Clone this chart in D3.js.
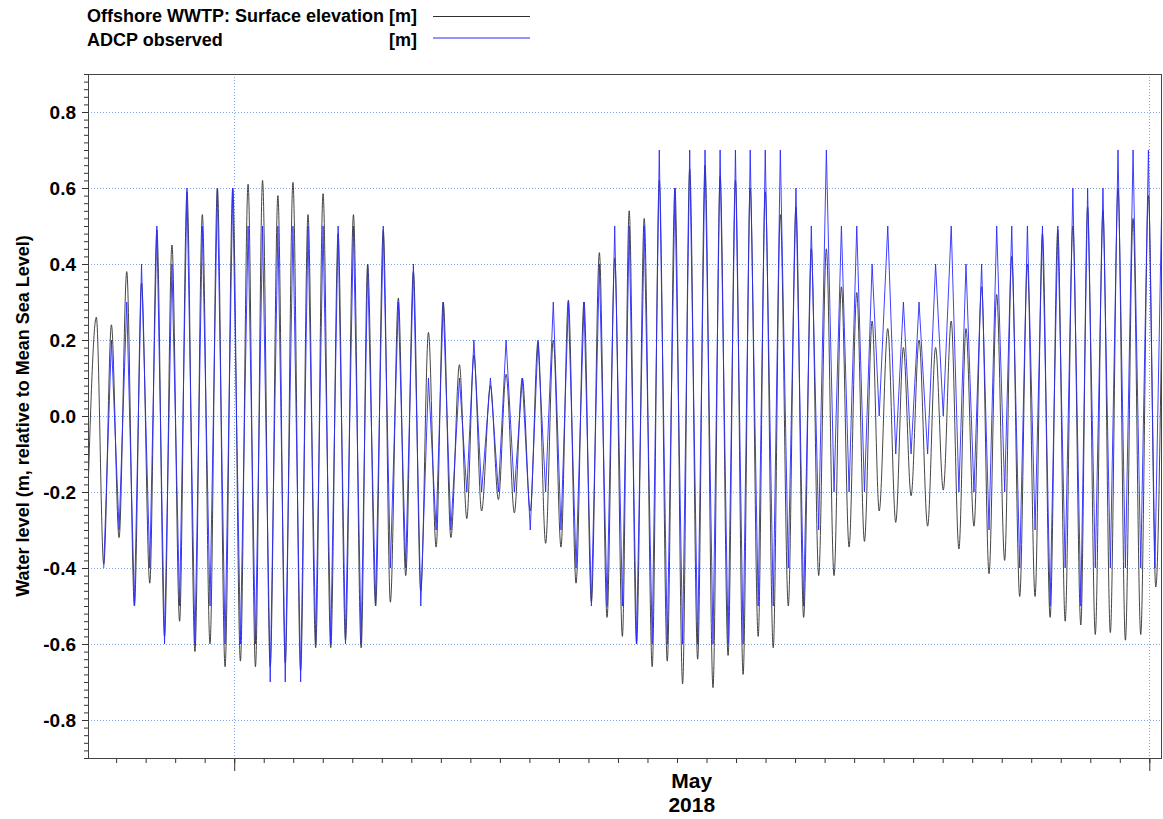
<!DOCTYPE html>
<html lang="en">
<head>
<meta charset="utf-8">
<title>Water level</title>
<script src="https://cdn.jsdelivr.net/npm/d3@7/dist/d3.min.js"></script>
<style type="text/css">
  body { margin: 0; background: #fff; }
  text { font-family: "Liberation Sans", Arial, sans-serif; font-weight: bold; fill: #000; }
</style>
</head>
<body>
<script type="text/javascript">
// times are in days after 2018-05-01 00:00 (UTC), levels in m
var modelTime = [-4.95, -4.67, -4.42, -4.16, -3.90, -3.64, -3.38, -3.14, -2.86, -2.62, -2.36, -2.11,
  -1.85, -1.60, -1.33, -1.08, -0.82, -0.57, -0.31, -0.05, 0.21, 0.47, 0.72, 0.96, 1.22, 1.48, 1.73,
  1.99, 2.25, 2.50, 2.76, 3.01, 3.27, 3.52, 3.77, 4.04, 4.30, 4.52, 4.79, 5.05, 5.29, 5.56, 5.81,
  6.07, 6.32, 6.58, 6.84, 7.08, 7.34, 7.63, 7.88, 8.12, 8.38, 8.68, 8.95, 9.21, 9.49, 9.76, 10.03,
  10.29, 10.55, 10.81, 11.07, 11.32, 11.58, 11.85, 12.10, 12.37, 12.63, 12.89, 13.15, 13.38, 13.63,
  13.89, 14.16, 14.40, 14.67, 14.93, 15.19, 15.43, 15.70, 15.95, 16.22, 16.46, 16.73, 16.98, 17.24,
  17.48, 17.75, 17.99, 18.26, 18.50, 18.77, 19.03, 19.29, 19.55, 19.80, 20.06, 20.32, 20.57, 20.83,
  21.09, 21.35, 21.61, 21.85, 22.14, 22.41, 22.67, 22.93, 23.20, 23.49, 23.76, 24.02, 24.29, 24.55,
  24.79, 25.06, 25.32, 25.57, 25.83, 26.10, 26.34, 26.61, 26.87, 27.13, 27.38, 27.64, 27.90, 28.15,
  28.41, 28.68, 28.91, 29.17, 29.43, 29.68, 29.94, 30.19, 30.45, 30.71, 30.97, 31.22, 31.43];
var modelLevel = [-0.19, 0.26, -0.39, 0.24, -0.32, 0.38, -0.50, 0.35, -0.44, 0.49, -0.58, 0.45,
  -0.54, 0.59, -0.62, 0.53, -0.60, 0.60, -0.66, 0.60, -0.645, 0.61, -0.66, 0.62, -0.66, 0.58, -0.65,
  0.615, -0.67, 0.53, -0.61, 0.585, -0.61, 0.48, -0.59, 0.53, -0.61, 0.40, -0.50, 0.49, -0.49, 0.31, -0.42,
  0.38, -0.46, 0.22, -0.345, 0.30, -0.32, 0.135, -0.27, 0.16, -0.25, 0.08, -0.22, 0.11, -0.255, 0.10, -0.25,
  0.195, -0.335, 0.20, -0.345, 0.305, -0.44, 0.30, -0.49, 0.43, -0.53, 0.415, -0.58, 0.54, -0.60,
  0.52, -0.66, 0.62, -0.645, 0.60, -0.705, 0.65, -0.64, 0.66, -0.715, 0.63, -0.63, 0.62, -0.68,
  0.60, -0.58, 0.59, -0.61, 0.53, -0.50, 0.55, -0.53, 0.44, -0.42, 0.44, -0.42, 0.34, -0.345,
  0.325, -0.33, 0.25, -0.25, 0.23, -0.28, 0.18, -0.21, 0.20, -0.29, 0.18, -0.195, 0.25, -0.35,
  0.23, -0.29, 0.34, -0.415, 0.32, -0.38, 0.42, -0.475, 0.40, -0.475, 0.48, -0.53, 0.49, -0.54,
  0.50, -0.55, 0.55, -0.575, 0.54, -0.57, 0.60, -0.59, 0.52, -0.575, 0.58, -0.45, 0.30];

var obsTime = [-4.42, -4.16, -3.90, -3.64, -3.38, -3.14, -2.86, -2.62, -2.36, -2.11,
  -1.85, -1.60, -1.33, -1.08, -0.82, -0.57, -0.31, -0.05, 0.21, 0.47, 0.72, 0.96, 1.22, 1.48, 1.73,
  1.99, 2.25, 2.50, 2.76, 3.01, 3.27, 3.52, 3.77, 4.04, 4.30, 4.52, 4.79, 5.05, 5.29, 5.56, 5.81,
  6.07, 6.32, 6.58, 6.84, 7.08, 7.34, 7.63, 7.88, 8.12, 8.38, 8.68, 8.95, 9.21, 9.49, 9.76, 10.03,
  10.29, 10.55, 10.81, 11.07, 11.32, 11.58, 11.85, 12.10, 12.37, 12.63, 12.89, 13.15, 13.38, 13.63,
  13.89, 14.16, 14.40, 14.67, 14.93, 15.19, 15.43, 15.70, 15.95, 16.22, 16.46, 16.73, 16.98, 17.24,
  17.48, 17.75, 17.99, 18.26, 18.50, 18.77, 19.03, 19.29, 19.55, 19.80, 20.06, 20.32, 20.57, 20.83,
  21.09, 21.35, 21.61, 21.85, 22.14, 22.41, 22.67, 22.93, 23.20, 23.49, 23.76, 24.02, 24.29, 24.55,
  24.79, 25.06, 25.32, 25.57, 25.83, 26.10, 26.34, 26.61, 26.87, 27.13, 27.38, 27.64, 27.90, 28.15,
  28.41, 28.68, 28.91, 29.17, 29.43, 29.68, 29.94, 30.19, 30.45, 30.71, 30.97, 31.19, 31.43];
var obsLevel = [-0.4, 0.2, -0.3, 0.3, -0.5, 0.4, -0.4, 0.5, -0.6, 0.4,
  -0.5, 0.6, -0.6, 0.5, -0.5, 0.6, -0.6, 0.6, -0.6, 0.5, -0.6, 0.5, -0.7, 0.5, -0.7,
  0.5, -0.7, 0.5, -0.6, 0.5, -0.6, 0.5, -0.6, 0.5, -0.6, 0.4, -0.5, 0.5, -0.4, 0.3, -0.4,
  0.4, -0.5, 0.1, -0.3, 0.3, -0.3, 0.1, -0.2, 0.2, -0.2, 0.1, -0.2, 0.2, -0.2, 0.1, -0.3,
  0.2, -0.2, 0.3, -0.3, 0.3, -0.4, 0.3, -0.5, 0.4, -0.5, 0.5, -0.5, 0.5, -0.6,
  0.5, -0.6, 0.7, -0.6, 0.6, -0.6, 0.7, -0.6, 0.7, -0.6, 0.7, -0.6, 0.7, -0.6,
  0.7, -0.5, 0.7, -0.5, 0.7, -0.4, 0.6, -0.5, 0.5, -0.3, 0.7, -0.2, 0.5, -0.2,
  0.5, -0.2, 0.4, 0.0, 0.5, -0.1, 0.3, -0.1, 0.3, -0.1, 0.4, 0.0, 0.5, -0.2,
  0.4, -0.2, 0.4, -0.3, 0.5, -0.2, 0.5, -0.4, 0.5, -0.3, 0.5, -0.5, 0.5, -0.4,
  0.6, -0.5, 0.6, -0.4, 0.6, -0.4, 0.7, -0.4, 0.7, -0.4, 0.7, -0.4, 0.6];

var yTickValues = [-0.8, -0.6, -0.4, -0.2, 0.0, 0.2, 0.4, 0.6, 0.8];
var legendNames = ["Offshore WWTP: Surface elevation", "ADCP observed"];
var legendUnits = ["[m]", "[m]"];
var yTitle = "Water level (m, relative to Mean Sea Level)";

var base = Date.UTC(2018, 4, 1);
function toDate(t) { return new Date(base + t * 864e5); }

var modelData = modelTime.map(function(t, i) { return {date: toDate(t), value: modelLevel[i]}; });
var obsData = obsTime.map(function(t, i) { return {date: toDate(t), value: obsLevel[i]}; });

var w = 1163, h = 819;
var pLeft = 88, pRight = 1162, pTop = 74, pBottom = 758;
var gridColor = "#7ea6ea";
var modelColor = "#303030", obsColor = "#2a2aff";

var svg = d3.select("body").append("svg")
  .attr("width", w)
  .attr("height", h);

var x = d3.scaleUtc()
  .domain([toDate(-4.953), toDate(31.43)])
  .range([pLeft, pRight]);
var y = d3.scaleLinear()
  .domain([-0.9, 0.9])
  .range([pBottom, pTop]);

// grid
svg.append("g").selectAll("line")
  .data(yTickValues)
  .enter().append("line")
  .attr("x1", pLeft).attr("x2", pRight)
  .attr("y1", function(d) { return Math.round(y(d)) + 0.5; })
  .attr("y2", function(d) { return Math.round(y(d)) + 0.5; })
  .attr("stroke", gridColor)
  .attr("stroke-width", 1)
  .attr("stroke-dasharray", "1,2");

var months = d3.utcMonth.range(x.domain()[0], x.domain()[1]);
svg.append("g").selectAll("line")
  .data(months)
  .enter().append("line")
  .attr("x1", function(d) { return Math.round(x(d)) + 0.5; })
  .attr("x2", function(d) { return Math.round(x(d)) + 0.5; })
  .attr("y1", pTop).attr("y2", pBottom)
  .attr("stroke", gridColor)
  .attr("stroke-width", 1)
  .attr("stroke-dasharray", "1,2");

// series
svg.append("clipPath").attr("id", "plot")
  .append("rect")
  .attr("x", pLeft).attr("y", pTop)
  .attr("width", pRight - pLeft).attr("height", pBottom - pTop);

var modelLine = d3.line()
  .x(function(d) { return x(d.date); })
  .y(function(d) { return y(d.value); })
  .curve(d3.curveMonotoneX);
var obsLine = d3.line()
  .x(function(d) { return x(d.date); })
  .y(function(d) { return y(d.value); });

svg.append("path")
  .datum(modelData)
  .attr("clip-path", "url(#plot)")
  .attr("d", modelLine)
  .attr("fill", "none")
  .attr("stroke", modelColor)
  .attr("stroke-width", 0.9);

svg.append("path")
  .datum(obsData)
  .attr("clip-path", "url(#plot)")
  .attr("d", obsLine)
  .attr("fill", "none")
  .attr("stroke", obsColor)
  .attr("stroke-width", 0.9);

// axes
var yMinor = svg.append("g")
  .attr("transform", "translate(" + pLeft + ",0)")
  .call(d3.axisLeft(y).ticks(90).tickSize(4).tickFormat(""));
yMinor.select(".domain").remove();

var yAxis = svg.append("g")
  .attr("transform", "translate(" + pLeft + ",0)")
  .call(d3.axisLeft(y).tickValues(yTickValues).tickSize(6).tickPadding(6)
    .tickFormat(function(d) { return d.toFixed(1); }));
yAxis.select(".domain").remove();
yAxis.selectAll("text")
  .attr("font-size", "19px")
  .attr("font-family", "Liberation Sans, Arial, sans-serif")
  .attr("font-weight", "bold")
  .attr("fill", "#000");

var xMinor = svg.append("g")
  .attr("transform", "translate(0," + pBottom + ")")
  .call(d3.axisBottom(x).ticks(d3.utcDay.every(1)).tickSize(5).tickFormat(""));
xMinor.select(".domain").remove();

var xMajor = svg.append("g")
  .attr("transform", "translate(0," + pBottom + ")")
  .call(d3.axisBottom(x).tickValues(months).tickSize(13).tickFormat(""));
xMajor.select(".domain").remove();

svg.selectAll(".tick line").attr("stroke", "#333");

// month labels, centred on the month
var monthLabels = svg.append("g").selectAll("g")
  .data(months.slice(0, months.length - 1))
  .enter().append("g")
  .attr("transform", function(d) {
    var mid = (x(d) + x(d3.utcMonth.offset(d, 1))) / 2;
    return "translate(" + mid + ",0)";
  });
monthLabels.append("text")
  .attr("y", 788)
  .attr("text-anchor", "middle")
  .attr("font-size", "21px")
  .text(d3.utcFormat("%B"));
monthLabels.append("text")
  .attr("y", 812)
  .attr("text-anchor", "middle")
  .attr("font-size", "21px")
  .text(d3.utcFormat("%Y"));

// frame
svg.append("rect")
  .attr("x", pLeft + 0.5).attr("y", pTop + 0.5)
  .attr("width", pRight - pLeft - 1).attr("height", pBottom - pTop)
  .attr("fill", "none")
  .attr("stroke", "#444")
  .attr("stroke-width", 1);

// y title
svg.append("text")
  .attr("transform", "translate(29," + (pTop + pBottom) / 2 + ") rotate(-90)")
  .attr("text-anchor", "middle")
  .attr("font-size", "18px")
  .text(yTitle);

// legend
svg.append("text")
  .attr("x", 87).attr("y", 22)
  .attr("font-size", "18px")
  .text(legendNames[0] + " " + legendUnits[0]);
svg.append("text")
  .attr("x", 87).attr("y", 46)
  .attr("font-size", "18px")
  .text(legendNames[1]);
svg.append("text")
  .attr("x", 417).attr("y", 46)
  .attr("text-anchor", "end")
  .attr("font-size", "18px")
  .text(legendUnits[1]);
svg.append("line")
  .attr("x1", 433).attr("x2", 530)
  .attr("y1", 16.5).attr("y2", 16.5)
  .attr("stroke", modelColor)
  .attr("stroke-width", 1);
svg.append("line")
  .attr("x1", 433).attr("x2", 530)
  .attr("y1", 38).attr("y2", 38)
  .attr("stroke", obsColor)
  .attr("stroke-width", 1.2);
</script>
</body>
</html>
